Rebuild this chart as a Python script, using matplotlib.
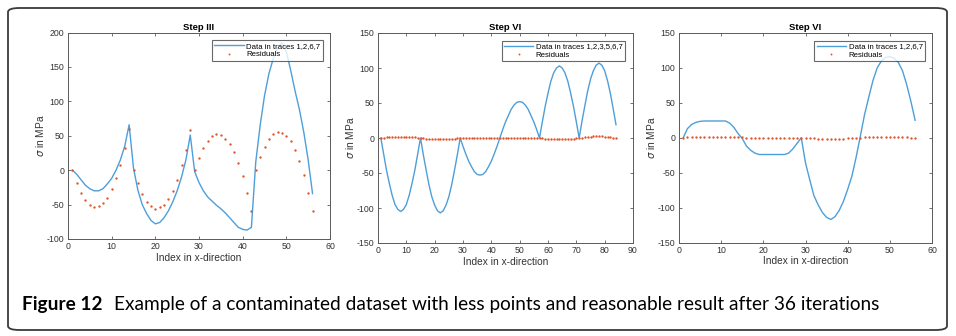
"""
Three-panel residual plot (Figure 12) - contaminated dataset, 36 iterations.
"""

import numpy as np
import matplotlib.pyplot as plt
from matplotlib.patches import FancyBboxPatch

# -------------------- Data --------------------
# Step III (traces 1,2,6,7), index 1..56
x1 = np.arange(1, 57)
data1 = [0, -6, -14, -22, -27, -30, -30, -27, -20, -12,
         0, 15, 35, 66, 3, -29, -50, -63, -73, -78,
         -76, -69, -59, -46, -30, -10, 15, 51, -2, -18,
         -30, -39, -45, -51, -56, -62, -69, -76, -83, -86,
         -87, -83, 12, 65, 108, 140, 162, 178, 185, 172,
         145, 115, 88, 55, 15, -34]
resid1 = [0, -19, -33, -44, -50, -53, -52, -48, -40, -28,
          -11, 8, 32, 60, 0, -19, -35, -46, -52, -56,
          -54, -50, -42, -30, -14, 7, 30, 58, 0, 18,
          32, 42, 49, 52, 51, 46, 38, 26, 11, -9,
          -33, -59, 0, 19, 33, 45, 52, 55, 54, 50,
          42, 29, 13, -7, -33, -59]

# Step VI (traces 1,2,3,5,6,7), index 1..84
x2 = np.arange(1, 85)
data2 = [0, -23, -46, -65, -82, -95, -102, -105, -102, -95,
         -82, -65, -46, -23, 0, -24, -46, -67, -84, -96,
         -104, -107, -104, -96, -84, -67, -46, -24, 0, -12,
         -23, -33, -41, -48, -52, -53, -52, -48, -41, -33,
         -23, -12, 0, 12, 23, 32, 41, 47, 51, 52,
         51, 47, 41, 32, 23, 12, 0, 23, 45, 64,
         81, 93, 100, 103, 100, 93, 81, 64, 45, 23,
         0, 24, 46, 67, 84, 96, 104, 107, 104, 96,
         82, 64, 42, 19]
resid2 = [0, 0.5, 0.9, 1.2, 1.5, 1.7, 1.9, 2.0, 1.9, 1.7,
          1.5, 1.2, 0.9, 0.5, 0, -0.5, -0.9, -1.2, -1.5, -1.7,
          -1.9, -2.0, -1.9, -1.7, -1.5, -1.2, -0.9, -0.5, 0, 0.1,
          0.2, 0.2, 0.3, 0.3, 0.3, 0.3, 0.3, 0.3, 0.3, 0.2,
          0.2, 0.1, 0, 0.2, 0.3, 0.4, 0.5, 0.6, 0.6, 0.6,
          0.6, 0.6, 0.5, 0.4, 0.3, 0.2, 0, -0.5, -0.9, -1.3,
          -1.6, -1.8, -2.0, -2.1, -2.0, -1.8, -1.6, -1.3, -0.9, -0.5,
          0, 0.6, 1.1, 1.6, 2.0, 2.3, 2.5, 2.5, 2.4, 2.1,
          1.7, 1.2, 0.6, 0]

# Step VI (traces 1,2,6,7), index 1..56
x3 = np.arange(1, 57)
data3 = [0, 13, 19, 22, 23.5, 24, 24, 24, 24, 24,
         24, 21, 15, 6, -1, -12, -18, -22, -24, -24,
         -24, -24, -24, -24, -24, -22, -16, -8, 0, -36,
         -60, -83, -96, -107, -114, -117, -113, -104, -91, -74,
         -55, -28, 2, 33, 58, 82, 100, 110, 115, 116,
         114, 108, 96, 76, 52, 25]
resid3 = [0, 0.4, 0.7, 1.0, 1.2, 1.4, 1.5, 1.6, 1.6, 1.5,
          1.4, 1.2, 1.0, 0.7, 0.4, 0.3, 0.3, 0.3, 0.3, 0.2,
          0.2, 0.2, 0.1, 0.1, 0.0, 0.0, 0.0, 0.0, 0, -0.3,
          -0.6, -0.9, -1.1, -1.3, -1.4, -1.5, -1.4, -1.3, -1.1, -0.9,
          -0.6, -0.3, 0, 0.4, 0.7, 1.0, 1.2, 1.4, 1.5, 1.5,
          1.4, 1.2, 1.0, 0.6, 0.2, -0.4]

titles = ["Step III", "Step VI", "Step VI"]
legend_labels = ["Data in traces 1,2,6,7", "Data in traces 1,2,3,5,6,7", "Data in traces 1,2,6,7"]
caption_bold = "Figure 12"
caption_text = "Example of a contaminated dataset with less points and reasonable result after 36 iterations"

# -------------------- Style --------------------
BLUE = "#4d9fd9"
RED = "#e2542a"
AXCOL = "#5a5a5a"
W, H = 956, 336
plt.rcParams["font.family"] = ["Liberation Sans", "DejaVu Sans"]
plt.rcParams["axes.unicode_minus"] = False

fig = plt.figure(figsize=(W / 100, H / 100), dpi=100)
fig.patch.set_facecolor("white")

# rounded frame around figure
frame = FancyBboxPatch((8 / W, 6 / H), 939 / W, 322 / H,
                       boxstyle="round,pad=0,rounding_size=0.012",
                       transform=fig.transFigure, fill=False,
                       edgecolor="#3a3a3a", linewidth=1.3)
fig.patches.append(frame)

# axes boxes in pixels: left, right, top, bottom
boxes = [(68, 330, 32.5, 239), (378, 633, 33, 243), (679, 932, 33, 242.5)]
xlims = [(0, 60), (0, 90), (0, 60)]
ylims = [(-100, 200), (-150, 150), (-150, 150)]
xticks = [np.arange(0, 61, 10), np.arange(0, 91, 10), np.arange(0, 61, 10)]
yticks = [np.arange(-100, 201, 50), np.arange(-150, 151, 50), np.arange(-150, 151, 50)]
legend_right = [322.7, 625, 925]

series = [(x1, data1, resid1), (x2, data2, resid2), (x3, data3, resid3)]

for i, (l, r, t, b) in enumerate(boxes):
    ax = fig.add_axes([l / W, 1 - b / H, (r - l) / W, (b - t) / H])
    x, d, res = series[i]
    ax.plot(x, d, color=BLUE, lw=1.0, label=legend_labels[i])
    ax.plot(x, res, ".", color=RED, ms=3.4, mew=0, label="Residuals")
    ax.set_xlim(*xlims[i])
    ax.set_ylim(*ylims[i])
    ax.set_xticks(xticks[i])
    ax.set_yticks(yticks[i])
    ax.tick_params(direction="in", top=True, right=True, length=2.5, width=0.6,
                   colors=AXCOL, labelsize=6.3, labelcolor="#333333", pad=2.5)
    for s in ax.spines.values():
        s.set_color(AXCOL)
        s.set_linewidth(0.7)
    ax.set_title(titles[i], fontsize=6.8, fontweight="bold", pad=2)
    ax.set_xlabel("Index in x-direction", fontsize=7.3, color="#333333", labelpad=1)
    ax.set_ylabel(r"$\sigma$ in MPa", fontsize=7.3, color="#333333", labelpad=1)
    bx = 1 - (r - legend_right[i]) / (r - l)
    by = 1 - 7.5 / (b - t)
    leg = ax.legend(loc="upper right", bbox_to_anchor=(bx, by), borderaxespad=0,
                    fontsize=5.6, frameon=True, fancybox=False, handlelength=3.8,
                    handletextpad=0.3, borderpad=0.3, labelspacing=0.15,
                    markerscale=0.8)
    leg.get_frame().set_edgecolor("#444444")
    leg.get_frame().set_linewidth(0.8)

# -------------------- Caption --------------------
t1 = fig.text(22 / W, 1 - 310 / H, caption_bold, fontsize=13.7, fontweight="bold",
              family="Lato", va="baseline", ha="left")
fig.canvas.draw()
bb = t1.get_window_extent()
fig.text((bb.x1 + 11) / W, 1 - 310 / H, caption_text, fontsize=13.7,
         family="Lato", va="baseline", ha="left")

fig.savefig("out.png", dpi=100)
